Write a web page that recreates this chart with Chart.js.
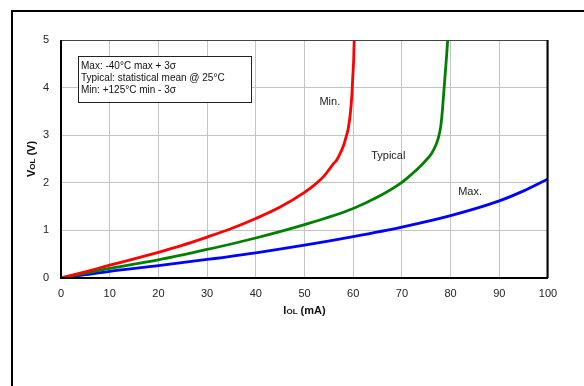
<!DOCTYPE html>
<html>
<head>
<meta charset="utf-8">
<script src="https://cdn.jsdelivr.net/npm/chart.js@4/dist/chart.umd.min.js"></script>
<style>
html,body{margin:0;padding:0;background:#fff;}
#wrap{width:584px;height:386px;position:relative;}
</style>
</head>
<body>
<div id="wrap"><canvas id="c" width="584" height="386"></canvas></div>
<script>
// Data (IOL in mA, VOL in V)
const minX = [0,5,10,15,20,25,30,35,40,45,50,52,54,55,56,56.5,57,58,58.5,59,59.4,59.7,59.9,60.1,60.2];
const minY = [0,0.13,0.27,0.40,0.54,0.69,0.86,1.04,1.25,1.49,1.80,1.95,2.14,2.27,2.41,2.46,2.55,2.78,2.95,3.15,3.45,3.8,4.2,4.6,5.0];
const typX = [0,5,10,20,30,40,50,60,65,70,72,74,75,76,77,77.5,78,78.3,78.6,78.9,79.2,79.4];
const typY = [0,0.10,0.20,0.38,0.60,0.84,1.12,1.46,1.70,2.01,2.18,2.37,2.48,2.60,2.80,2.95,3.2,3.5,3.9,4.3,4.7,5.0];
const maxX = [0,5,10,20,30,40,50,60,70,80,90,95,100];
const maxY = [0,0.07,0.14,0.26,0.39,0.53,0.69,0.87,1.07,1.31,1.62,1.83,2.08];
const xTicks = [0,10,20,30,40,50,60,70,80,90,100];
const yTicks = [0,1,2,3,4,5];
const curveLabels = [
  {text:'Min.', x:55.2, y:3.7},
  {text:'Typical', x:67.2, y:2.56},
  {text:'Max.', x:84, y:1.8}
];
const noteLines = ['Max: -40°C max + 3σ','Typical: statistical mean @ 25°C','Min: +125°C min - 3σ'];

const pts = (xs, ys) => xs.map((x,i)=>({x:x, y:ys[i]}));
const FONT = '"Liberation Sans", Arial, sans-serif';

const decor = {
  id:'decor',
  beforeDraw(chart){
    const ctx = chart.ctx;
    ctx.save();
    ctx.fillStyle='#fff';
    ctx.fillRect(0,0,chart.width,chart.height);
    ctx.strokeStyle='#000';
    ctx.lineWidth=2;
    ctx.beginPath();
    ctx.moveTo(12,386); ctx.lineTo(12,11); ctx.lineTo(584,11);
    ctx.stroke();
    ctx.restore();
  },
  afterDatasetsDraw(chart){
    const ctx = chart.ctx, a = chart.chartArea;
    const xs = chart.scales.x, ys = chart.scales.y;
    ctx.save();
    // plot border
    ctx.strokeStyle='#444'; ctx.lineWidth=1;
    ctx.beginPath(); ctx.moveTo(a.left, a.top+0.5); ctx.lineTo(a.right, a.top+0.5); ctx.stroke();
    ctx.strokeStyle='#000'; ctx.lineWidth=2;
    ctx.beginPath(); ctx.moveTo(a.right-0.5, a.top); ctx.lineTo(a.right-0.5, a.bottom); ctx.stroke();
    ctx.beginPath(); ctx.moveTo(a.left, a.top); ctx.lineTo(a.left, a.bottom); ctx.lineTo(a.right, a.bottom); ctx.stroke();
    // note box
    const bx=78, by=56, bw=173, bh=46;
    ctx.fillStyle='#fff'; ctx.fillRect(bx,by,bw,bh);
    ctx.strokeStyle='#222'; ctx.lineWidth=1;
    ctx.strokeRect(bx+0.5,by+0.5,bw,bh);
    ctx.fillStyle='#111'; ctx.font='10px '+FONT; ctx.textBaseline='middle'; ctx.textAlign='left';
    noteLines.forEach((t,i)=>ctx.fillText(t, bx+3, by+10+i*12));
    // curve labels
    ctx.font='11px '+FONT; ctx.fillStyle='#222'; ctx.textAlign='center';
    curveLabels.forEach(l=>ctx.fillText(l.text, xs.getPixelForValue(l.x), ys.getPixelForValue(l.y)));
    // axis titles with small "OL"
    function drawTitle(parts, cx, cy){
      let w=0;
      parts.forEach(p=>{ctx.font='bold '+p[1]+'px '+FONT; w+=ctx.measureText(p[0]).width;});
      let x=cx-w/2;
      ctx.textAlign='left'; ctx.textBaseline='alphabetic';
      parts.forEach(p=>{ctx.font='bold '+p[1]+'px '+FONT; ctx.fillText(p[0], x, cy+4); x+=ctx.measureText(p[0]).width;});
    }
    ctx.fillStyle='#111';
    drawTitle([['I',11],['OL',8],[' (mA)',11]], (a.left+a.right)/2, 310);
    ctx.save();
    ctx.translate(31,(a.top+a.bottom)/2);
    ctx.rotate(-Math.PI/2);
    drawTitle([['V',11],['OL',8],[' (V)',11]], 0, 0);
    ctx.restore();
    ctx.restore();
  }
};

new Chart(document.getElementById('c'), {
  type:'scatter',
  data:{
    datasets:[
      {label:'Min.', data:pts(minX,minY), borderColor:'#ff0000'},
      {label:'Typical', data:pts(typX,typY), borderColor:'#008000'},
      {label:'Max.', data:pts(maxX,maxY), borderColor:'#0000ff'}
    ].map(d=>Object.assign(d,{showLine:true, pointRadius:0, borderWidth:2.8, cubicInterpolationMode:'monotone', fill:false}))
  },
  options:{
    responsive:false, animation:false, devicePixelRatio:1,
    layout:{padding:{left:0, top:40, right:36, bottom:0}},
    plugins:{legend:{display:false}, tooltip:{enabled:false}},
    scales:{
      x:{type:'linear', min:0, max:100,
        afterBuildTicks(s){ s.ticks = xTicks.map(v=>({value:v})); },
        afterFit(s){ s.height = 108; },
        grid:{color:'#c4c4c4', lineWidth:1, drawTicks:false},
        border:{display:false},
        ticks:{padding:9, color:'#222', font:{family:FONT, size:11}, maxRotation:0}
      },
      y:{type:'linear', min:0, max:5,
        afterBuildTicks(s){ s.ticks = yTicks.map(v=>({value:v})); },
        afterFit(s){ s.width = 61; },
        grid:{color:'#c4c4c4', lineWidth:1, drawTicks:false},
        border:{display:false},
        ticks:{padding:12, color:'#222', font:{family:FONT, size:11}}
      }
    }
  },
  plugins:[decor]
});
</script>
</body>
</html>
